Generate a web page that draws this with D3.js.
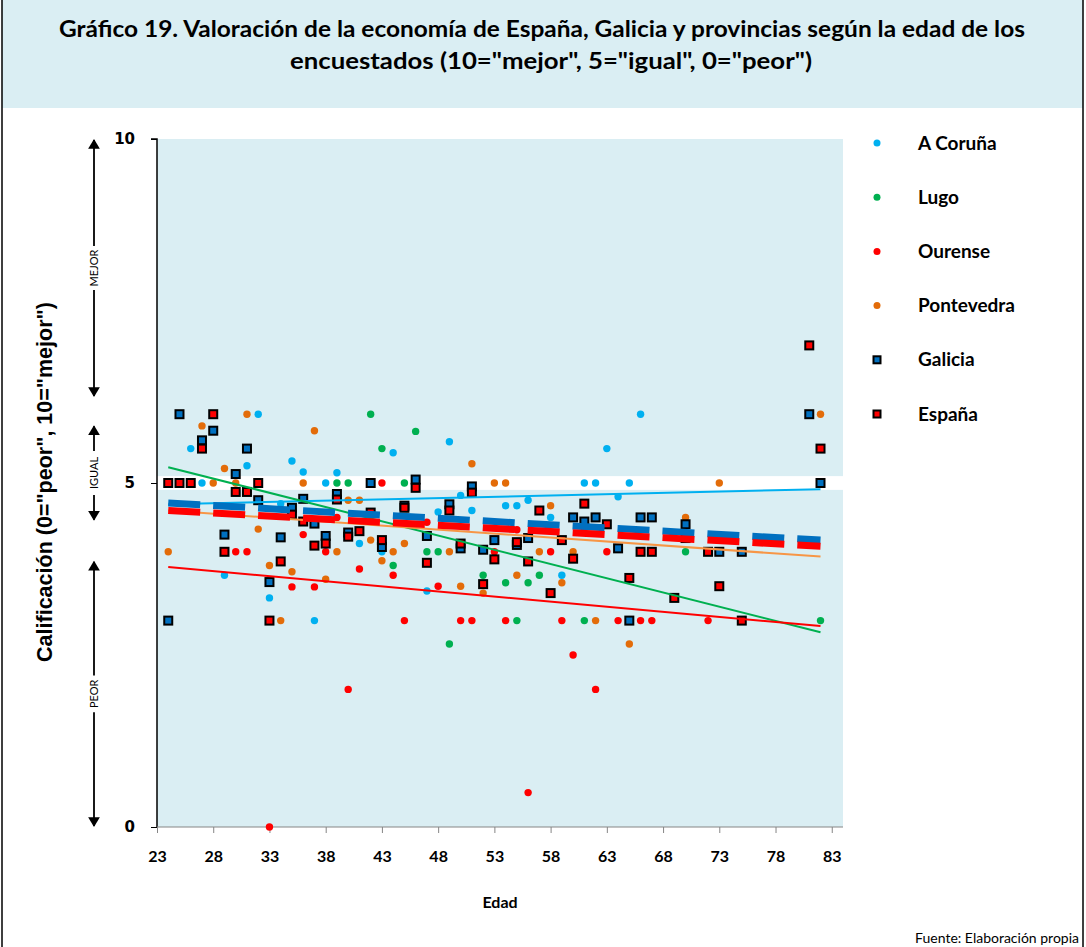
<!DOCTYPE html>
<html lang="es">
<head>
<meta charset="utf-8">
<title>Gráfico 19</title>
<style>
  body { margin: 0; background: #fff; }
  svg { display: block; }
  .cal { font-family: Lato, "Open Sans", sans-serif; font-weight: 700; fill: #000; }
</style>
</head>
<body>
<div id="chart"></div>
<script src="https://cdn.jsdelivr.net/npm/d3@7/dist/d3.min.js"></script>
<script>
// ---- data (edad, calificación) ----
var coruna = [[26,5.5],[27,5.0],[29,3.66],[31,5.25],[32,6.0],[33,3.33],[34,4.70],[35,5.32],[36,5.16],[37,3.0],
  [38,5.0],[39,5.15],[41,4.12],[43,4.0],[44,5.44],[47,3.43],[48,4.58],[49,5.6],[50,4.82],[51,4.6],[54,4.67],
  [55,4.67],[56,4.75],[58,4.5],[59,3.66],[61,5.0],[62,5.0],[63,5.5],[64,4.8],[65,5.0],[66,6.0]];
var lugo = [[39,5.0],[40,5.0],[42,6.0],[43,5.5],[44,3.8],[45,5.0],[46,5.75],[47,4.0],[48,4.0],[49,2.66],
  [52,3.66],[54,3.55],[55,3.0],[56,3.55],[57,3.66],[61,3.0],[70,4.0],[82,3.0]];
var ourense = [[30,4.0],[31,4.0],[33,0.0],[35,3.49],[36,4.25],[37,3.49],[38,4.0],[39,4.5],[40,2.0],[41,3.75],
  [43,5.0],[44,3.66],[45,3.0],[47,4.43],[48,3.5],[50,3.0],[51,3.0],[53,4.0],[54,3.0],[55,4.32],[56,0.5],
  [58,4.0],[59,3.0],[60,2.5],[62,2.0],[63,4.0],[64,3.0],[66,3.0],[67,3.0],[72,3.0]];
var pontevedra = [[24,4.0],[27,5.83],[28,5.0],[29,5.21],[30,5.0],[31,6.0],[32,4.33],[33,3.80],[34,3.0],[35,3.71],
  [36,5.0],[37,5.76],[38,3.6],[39,4.0],[40,4.75],[41,4.75],[42,4.17],[43,3.87],[44,4.0],[45,4.12],[49,4.0],
  [50,3.5],[51,5.28],[52,3.4],[53,5.0],[54,5.0],[55,3.66],[57,4.0],[58,4.67],[59,3.55],[60,4.0],[62,3.0],
  [65,2.66],[70,4.5],[73,5.0],[82,6.0]];
var galicia = [[24,3.0],[25,6.0],[27,5.62],[28,5.76],[29,4.25],[30,5.13],[31,5.5],[32,4.75],[33,3.56],[34,4.21],
  [35,4.64],[36,4.77],[37,4.41],[38,4.23],[39,4.84],[40,4.28],[42,5.0],[43,4.07],[45,4.67],[46,5.05],[47,4.23],
  [49,4.69],[50,4.05],[51,4.95],[52,4.03],[53,4.17],[55,4.1],[56,4.2],[60,4.5],[61,4.44],[62,4.5],[64,4.05],
  [65,3.0],[66,4.5],[67,4.5],[70,4.4],[73,4.0],[75,4.0],[81,6.0],[82,5.0]];
var espana = [[24,5.0],[25,5.0],[26,5.0],[27,5.5],[28,6.0],[29,4.0],[30,4.87],[31,4.87],[32,5.0],[33,3.0],
  [34,3.86],[35,4.54],[36,4.44],[37,4.09],[38,4.12],[39,4.76],[40,4.22],[41,4.3],[42,4.57],[43,4.17],[45,4.64],
  [46,4.93],[47,3.84],[49,4.6],[50,4.12],[51,4.86],[52,3.53],[53,3.89],[55,4.14],[56,3.86],[57,4.6],[58,3.4],
  [59,4.17],[60,3.9],[61,4.7],[63,4.4],[65,3.62],[66,4.0],[67,4.0],[69,3.33],[70,4.2],[72,4.0],[73,3.5],
  [75,3.0],[81,7.0],[82,5.5]];

var seriesNames = ["A Coruña", "Lugo", "Ourense", "Pontevedra", "Galicia", "España"];
var seriesData = [coruna, lugo, ourense, pontevedra, galicia, espana];
var seriesColors = ["#00B0F0", "#00B050", "#FF0000", "#E36C09", "#0070C0", "#FF0000"];
var trendColors = ["#00B0F0", "#00B050", "#FF0000", "#F79646", "#0070C0", "#FF0000"];
// linear trend lines: value at edad 24 and at edad 82
var trendFrom = [4.69, 5.23, 3.78, 4.60, 4.71, 4.60];
var trendTo = [4.91, 2.83, 2.92, 3.93, 4.17, 4.08];

var xTicks = [23, 28, 33, 38, 43, 48, 53, 58, 63, 68, 73, 78, 83];
var yTicks = [0, 5, 10];
var igualBand = [4.9, 5.1];

var width = 1086, height = 947;

var svg = d3.select("#chart").append("svg")
    .attr("width", width)
    .attr("height", height);

var x = d3.scaleLinear().domain([23, 84]).range([157, 843]);
var y = d3.scaleLinear().domain([0, 10]).range([827, 139]);

// frame + title box
svg.append("rect").attr("x", 2).attr("y", 0).attr("width", 1081).attr("height", 108)
    .attr("fill", "#DAEEF3");
svg.append("rect").attr("x", 2).attr("y", -2).attr("width", 1081).attr("height", 960)
    .attr("fill", "none").attr("stroke", "#000").attr("stroke-width", 1.5);

var title = svg.append("text").attr("class", "cal").attr("text-anchor", "middle").style("font-size", "22px");
title.append("tspan").attr("x", 542).attr("y", 37).attr("textLength", 966).attr("lengthAdjust", "spacingAndGlyphs")
    .text("Gráfico 19. Valoración de la economía de España, Galicia y provincias según la edad de los");
title.append("tspan").attr("x", 551).attr("y", 69).attr("textLength", 522).attr("lengthAdjust", "spacingAndGlyphs")
    .text("encuestados (10=\"mejor\", 5=\"igual\", 0=\"peor\")");

// plot area
svg.append("rect").attr("x", x(23)).attr("y", y(10)).attr("width", x(84) - x(23)).attr("height", y(0) - y(10))
    .attr("fill", "#DAEEF3");
svg.append("rect").attr("x", x(23)).attr("y", y(igualBand[1])).attr("width", x(84) - x(23))
    .attr("height", y(igualBand[0]) - y(igualBand[1])).attr("fill", "#fff");

// axes
var yAxis = svg.append("g").attr("transform", "translate(" + x(23) + ",0)")
    .call(d3.axisLeft(y).tickValues(yTicks).tickSize(6).tickFormat(d3.format("d")));
yAxis.select(".domain").attr("stroke", "#000").attr("stroke-width", 1.5).attr("d", "M-6," + y(10) + "H0V" + y(0));
yAxis.selectAll(".tick line").attr("stroke", "#000");
yAxis.selectAll("text").attr("x", -22)
    .style("font-family", "'DejaVu Sans', Verdana, sans-serif").style("font-weight", "700")
    .style("font-size", "15px").attr("fill", "#000");

var xAxis = svg.append("g").attr("transform", "translate(0," + y(0) + ")")
    .call(d3.axisBottom(x).tickValues(xTicks).tickSize(6).tickFormat(d3.format("d")));
xAxis.select(".domain").attr("stroke", "#868686").attr("stroke-width", 1.2).attr("d", "M" + x(23) + ",0H" + x(84));
xAxis.selectAll(".tick line").attr("stroke", "#868686");
xAxis.selectAll("text").attr("class", "cal").attr("y", 30).attr("dy", "0.32em")
    .style("font-size", "16px");

svg.append("text").attr("class", "cal").attr("x", 500).attr("y", 908).attr("text-anchor", "middle")
    .style("font-size", "16px").text("Edad");

svg.append("text").attr("transform", "translate(52,482) rotate(-90)").attr("text-anchor", "middle")
    .style("font-family", "'Liberation Sans', Arial, sans-serif").style("font-weight", "700")
    .style("font-size", "21.5px").text("Calificación (0=\"peor\", 10=\"mejor\")");

// side arrows
svg.append("defs").append("marker").attr("id", "ah").attr("viewBox", "0 0 10 12")
    .attr("refX", 9).attr("refY", 6).attr("markerWidth", 6.5).attr("markerHeight", 6.5)
    .attr("markerUnits", "strokeWidth")
    .attr("orient", "auto-start-reverse")
  .append("path").attr("d", "M0,0L10,6L0,12z").attr("fill", "#000");
var arrows = [["MEJOR", 10, 6.25], ["IGUAL", 5.84, 4.45], ["PEOR", 3.87, 0]];
arrows.forEach(function(a) {
  var mid = (y(a[1]) + y(a[2])) / 2, half = a[0].length * 3.6 + 4;
  svg.append("line").attr("x1", 94).attr("x2", 94).attr("y1", mid - half).attr("y2", y(a[1]) + 1)
      .attr("stroke", "#000").attr("stroke-width", 1.8).attr("marker-end", "url(#ah)");
  svg.append("line").attr("x1", 94).attr("x2", 94).attr("y1", mid + half).attr("y2", y(a[2]) - 1)
      .attr("stroke", "#000").attr("stroke-width", 1.8).attr("marker-end", "url(#ah)");
  svg.append("text").attr("class", "cal").attr("transform", "translate(98," + mid + ") rotate(-90)")
      .attr("text-anchor", "middle").style("font-size", "11px").style("font-weight", "400").text(a[0]);
});

// points
seriesData.forEach(function(data, i) {
  var g = svg.append("g");
  if (i < 4) {
    g.selectAll("circle").data(data).enter().append("circle")
        .attr("cx", function(d) { return x(d[0]); })
        .attr("cy", function(d) { return y(d[1]); })
        .attr("r", 3.7).attr("fill", seriesColors[i]);
  } else {
    g.selectAll("rect").data(data).enter().append("rect")
        .attr("x", function(d) { return x(d[0]) - 4; })
        .attr("y", function(d) { return y(d[1]) - 4; })
        .attr("width", 8).attr("height", 8)
        .attr("fill", seriesColors[i]).attr("stroke", "#000").attr("stroke-width", 2);
  }
});

// trend lines
seriesData.forEach(function(data, i) {
  var dashed = i >= 4;
  svg.append("line")
      .attr("x1", x(24)).attr("y1", y(trendFrom[i]))
      .attr("x2", x(82)).attr("y2", y(trendTo[i]))
      .attr("stroke", trendColors[i])
      .attr("stroke-width", dashed ? 7 : 2)
      .attr("stroke-dasharray", dashed ? "32,13" : null);
});

// legend
var legend = svg.append("g");
seriesNames.forEach(function(name, i) {
  var ly = 143 + i * 54.2;
  if (i < 4) {
    legend.append("circle").attr("cx", 877).attr("cy", ly).attr("r", 3.5).attr("fill", seriesColors[i]);
  } else {
    legend.append("rect").attr("x", 873.5).attr("y", ly - 3.5).attr("width", 7).attr("height", 7)
        .attr("fill", seriesColors[i]).attr("stroke", "#000").attr("stroke-width", 2);
  }
  legend.append("text").attr("class", "cal").attr("x", 918).attr("y", ly).attr("dy", "0.35em")
      .style("font-size", "19px").text(name);
});

svg.append("text").attr("x", 1079).attr("y", 943).attr("text-anchor", "end")
    .style("font-family", "Lato, 'Open Sans', sans-serif").style("font-size", "14px")
    .text("Fuente: Elaboración propia");
</script>
</body>
</html>
